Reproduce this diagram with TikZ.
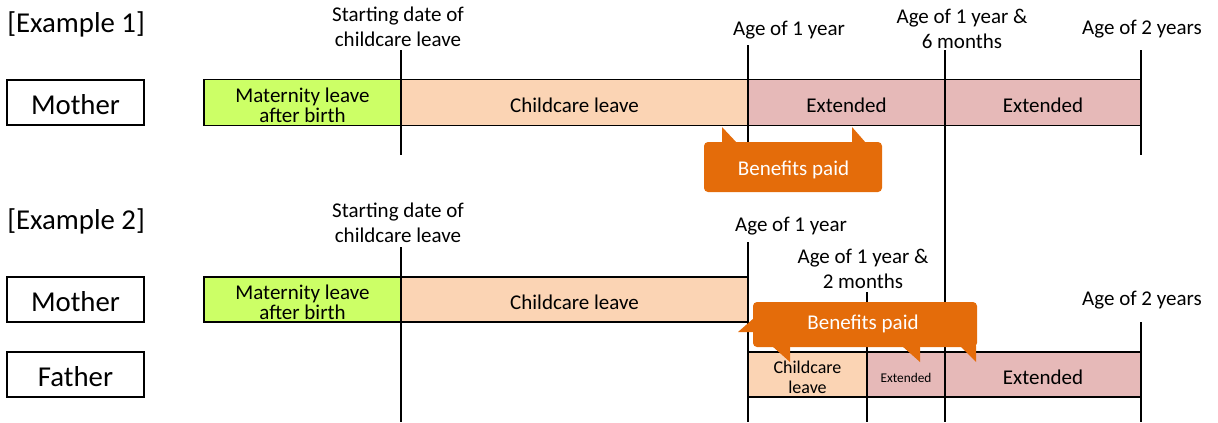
\documentclass[tikz,border=0pt]{standalone}
\usepackage{fontspec}
\setmainfont{Carlito}
\definecolor{mgreen}{HTML}{CCFF66}
\definecolor{cpeach}{HTML}{FBD4B4}
\definecolor{epink}{HTML}{E6B9B8}
\definecolor{corange}{HTML}{E46C0A}
\newcommand\pxu{0.75pt}
\newcommand\bigf{\fontsize{21.6}{26}\selectfont}
\newcommand\midf{\fontsize{15.75}{18.9}\selectfont}
\newcommand\barf{\fontsize{15.75}{15}\selectfont}
\newcommand\smf{\fontsize{13.5}{15}\selectfont}
\newcommand\tinf{\fontsize{10}{12}\selectfont}
\begin{document}
\begin{tikzpicture}[x=0.75pt,y=-0.75pt,
  who/.style={draw=black, line width=1.2pt, inner sep=0pt, minimum width=137*\pxu, minimum height=45*\pxu},
  whotext/.style={inner sep=0pt, font=\bigf, yshift=-2.5*\pxu},
  bar/.style={draw=black, line width=1.2pt, inner sep=0pt},
  bt/.style={inner sep=0pt, align=center, font=\barf, yshift=-3*\pxu},
  tick/.style={draw=black, line width=1.2pt},
  lbl/.style={inner sep=0pt, align=center, font=\midf},
  callout/.style={fill=corange, draw=none},
  ctext/.style={inner sep=0pt, text=white, font=\midf, anchor=base}
]
\path[use as bounding box] (0,0) rectangle (1218,422);

% ---------- Example 1 ----------
\node[anchor=base west, inner sep=0pt, font=\bigf] (ex1) at (7,32) {[Example 1]};
\node[who] (mo1) at (75.5,102.5) {};
\node[whotext] (mo1t) at (mo1) {Mother};

\coordinate (a1t) at (401,50);  \coordinate (a1b) at (401,155);
\coordinate (a2t) at (748,45);  \coordinate (a2b) at (748,150);
\coordinate (a3t) at (945,50);  \coordinate (a3b) at (945,422);
\coordinate (a4t) at (1141,50); \coordinate (a4b) at (1141,155);
\draw[tick] (a1t) -- (a1b);
\draw[tick] (a2t) -- (a2b);
\draw[tick] (a3t) -- (a3b);
\draw[tick] (a4t) -- (a4b);

\node[bar, fill=mgreen, minimum width=197*\pxu, minimum height=46*\pxu] (g1) at (302.5,102.5) {};
\node[bar, fill=cpeach, minimum width=347*\pxu, minimum height=46*\pxu] (c1) at (574.5,102.5) {};
\node[bar, fill=epink, minimum width=197*\pxu, minimum height=46*\pxu] (e1) at (846.5,102.5) {};
\node[bar, fill=epink, minimum width=196*\pxu, minimum height=46*\pxu] (f1) at (1043,102.5) {};
\node[bt] (g1t) at (g1) {Maternity leave\\after birth};
\node[bt] (c1t) at (c1) {Childcare leave};
\node[bt] (e1t) at (e1) {Extended};
\node[bt] (f1t) at (f1) {Extended};

\node[lbl] (s1) at (398,26.5) {Starting date of\\childcare leave};
\node[lbl, anchor=base] (y1) at (789,35) {Age of 1 year};
\node[lbl] (h1) at (962,28.5) {Age of 1 year \&\\6 months};
\node[lbl, anchor=base] (t1) at (1142,34) {Age of 2 years};

\fill[callout, rounded corners=3] (704,142) rectangle (882,192);
\fill[callout] (722,143) -- (722,127) -- (737,143) -- cycle;
\fill[callout] (852,143) -- (852,127) -- (866,143) -- cycle;
\node[ctext] (b1) at (793.5,175) {Benefits paid};

% ---------- Example 2 ----------
\node[anchor=base west, inner sep=0pt, font=\bigf] (ex2) at (7,229) {[Example 2]};
\node[who] (mo2) at (75.5,299.5) {};
\node[whotext] (mo2t) at (mo2) {Mother};
\node[who] (fa2) at (75.5,374.5) {};
\node[whotext] (fa2t) at (fa2) {Father};

\coordinate (b1t) at (401,247);  \coordinate (b1b) at (401,422);
\coordinate (b2t) at (748,242);  \coordinate (b2b) at (748,422);
\coordinate (b3t) at (867,292);  \coordinate (b3b) at (867,422);
\coordinate (b4t) at (1141,322); \coordinate (b4b) at (1141,422);
\draw[tick] (b1t) -- (b1b);
\draw[tick] (b2t) -- (b2b);
\draw[tick] (b3t) -- (b3b);
\draw[tick] (b4t) -- (b4b);

\node[bar, fill=mgreen, minimum width=197*\pxu, minimum height=45*\pxu] (g2) at (302.5,299.5) {};
\node[bar, fill=cpeach, minimum width=347*\pxu, minimum height=45*\pxu] (c2) at (574.5,299.5) {};
\node[bt] (g2t) at (g2) {Maternity leave\\after birth};
\node[bt] (c2t) at (c2) {Childcare leave};

\node[bar, fill=cpeach, minimum width=119*\pxu, minimum height=45*\pxu] (fc2) at (807.5,374.5) {};
\node[bar, fill=epink, minimum width=78*\pxu, minimum height=45*\pxu] (fe2) at (906,374.5) {};
\node[bar, fill=epink, minimum width=196*\pxu, minimum height=45*\pxu] (ff2) at (1043,374.5) {};
\node[bt, font=\smf] (fc2t) at (fc2) {Childcare\\leave};
\node[bt, font=\tinf] (fe2t) at (fe2) {Extended};
\node[bt] (ff2t) at (ff2) {Extended};

\node[lbl] (s2) at (398,222.5) {Starting date of\\childcare leave};
\node[lbl, anchor=base] (y2) at (791,231) {Age of 1 year};
\node[lbl] (h2) at (863,268.5) {Age of 1 year \&\\2 months};
\node[lbl, anchor=base] (t2) at (1142,305) {Age of 2 years};

\fill[callout, rounded corners=3] (753,302) rectangle (977,347);
\fill[callout] (754,318) -- (738,332) -- (754,332) -- cycle;
\fill[callout] (772,346) -- (790,362) -- (790,346) -- cycle;
\fill[callout] (902,346) -- (920,362) -- (920,346) -- cycle;
\fill[callout] (960,346) -- (976,362) -- (976,346) -- cycle;
\node[ctext] (b2) at (863,329) {Benefits paid};
\end{tikzpicture}
\end{document}
